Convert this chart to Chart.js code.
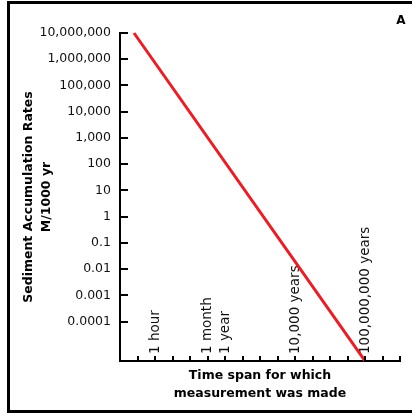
<!DOCTYPE html>
<html>
<head>
<meta charset="utf-8">
<script src="https://cdn.jsdelivr.net/npm/chart.js@4/dist/chart.umd.min.js"></script>
<style>
  html, body { margin: 0; padding: 0; background: #fff; overflow: hidden; }
  canvas { display: block; }
</style>
</head>
<body>
<canvas id="c" width="412" height="413"></canvas>
<script>
// ---- data ----
const timeSpans = [6.3e-6, 1e8];            // years (x)
const accumulationRates = [1e7, 3.2e-6];    // M/1000 yr (y)

const yTickValues = [1e7, 1e6, 1e5, 1e4, 1e3, 1e2, 1e1, 1, 1e-1, 1e-2, 1e-3, 1e-4];
const yTickLabels = ['10,000,000', '1,000,000', '100,000', '10,000', '1,000', '100', '10', '1', '0.1', '0.01', '0.001', '0.0001'];

const xTickValues = [1e-5, 1e-4, 1e-3, 1e-2, 1e-1, 1, 1e1, 1e2, 1e3, 1e4, 1e5, 1e6, 1e7, 1e8, 1e9, 1e10];
const xLabelValues = [1e-4, 1e-1, 1, 1e4, 1e8];
const xLabels = ['1 hour', '1 month', '1 year', '10,000 years', '100,000,000 years'];

const yTitle = ['Sediment Accumulation Rates', 'M/1000 yr'];
const xTitle = ['Time span for which', 'measurement was made'];
const panelLetter = 'A';

const points = timeSpans.map((t, i) => ({ x: t, y: accumulationRates[i] }));

const decorPlugin = {
  id: 'decor',
  beforeDraw(chart) {
    const ctx = chart.ctx;
    ctx.save();
    ctx.fillStyle = '#fff';
    ctx.fillRect(0, 0, chart.width, chart.height);
    ctx.fillStyle = '#000';
    ctx.fillRect(7, 1, 405, 3);
    ctx.fillRect(7, 1, 3, 412);
    ctx.fillRect(7, 410, 405, 3);
    ctx.font = 'bold 12px "DejaVu Sans"';
    ctx.textAlign = 'center';
    ctx.textBaseline = 'alphabetic';
    ctx.fillText(panelLetter, 401, 24);
    ctx.restore();
  },
  beforeDatasetsDraw(chart) {
    const ctx = chart.ctx;
    const xs = chart.scales.x;
    const area = chart.chartArea;
    ctx.save();
    ctx.fillStyle = '#111';
    ctx.font = '13.5px "DejaVu Sans"';
    ctx.textAlign = 'left';
    ctx.textBaseline = 'middle';
    xLabelValues.forEach((v, i) => {
      const px = xs.getPixelForValue(v);
      ctx.save();
      ctx.translate(px, area.bottom - 7);
      ctx.rotate(-Math.PI / 2);
      ctx.fillText(xLabels[i], 0, 0);
      ctx.restore();
    });
    ctx.restore();
  },
  afterDraw(chart) {
    const ctx = chart.ctx;
    const xs = chart.scales.x, ys = chart.scales.y;
    const area = chart.chartArea;
    ctx.save();
    ctx.strokeStyle = '#000';
    ctx.lineWidth = 2;
    ctx.beginPath();
    yTickValues.forEach(v => {
      const py = Math.round(ys.getPixelForValue(v));
      ctx.moveTo(area.left, py);
      ctx.lineTo(area.left + 8, py);
    });
    xTickValues.forEach(v => {
      const px = Math.round(xs.getPixelForValue(v));
      ctx.moveTo(px, area.bottom);
      ctx.lineTo(px, area.bottom - 5);
    });
    ctx.stroke();
    ctx.restore();
  }
};

new Chart(document.getElementById('c'), {
  type: 'line',
  data: {
    datasets: [{
      data: points,
      borderColor: '#ec1c24',
      borderWidth: 3,
      pointRadius: 0,
      fill: false,
      tension: 0,
      clip: false
    }]
  },
  options: {
    responsive: false,
    animation: false,
    devicePixelRatio: 1,
    layout: { padding: { top: 33, right: 12, bottom: 0, left: 0 } },
    plugins: { legend: { display: false }, tooltip: { enabled: false } },
    scales: {
      x: {
        type: 'logarithmic',
        min: 1e-6,
        max: 1e10,
        grid: { display: false, drawTicks: false },
        border: { display: true, color: '#000', width: 2 },
        ticks: { display: false },
        title: {
          display: true,
          text: xTitle,
          color: '#000',
          font: { family: 'DejaVu Sans', size: 12.5, weight: 'bold', lineHeight: 1.4 },
          padding: { top: 0, bottom: 10.75 }
        },
        afterFit(scale) { scale.height = 52; }
      },
      y: {
        type: 'logarithmic',
        min: 3.16e-6,
        max: 1e7,
        grid: { display: false, drawTicks: false },
        border: { display: true, color: '#000', width: 2 },
        afterBuildTicks(scale) {
          scale.ticks = yTickValues.map(v => ({ value: v }));
        },
        ticks: {
          autoSkip: false,
          padding: 9,
          color: '#111',
          font: { family: 'DejaVu Sans', size: 12.5 },
          callback: (value, index) => yTickLabels[index]
        },
        title: {
          display: true,
          text: yTitle,
          color: '#000',
          font: { family: 'DejaVu Sans', size: 12.5, weight: 'bold', lineHeight: 1.4 },
          padding: { top: 20, bottom: 0 }
        },
        afterFit(scale) { scale.width = 120; }
      }
    }
  },
  plugins: [decorPlugin]
});
</script>
</body>
</html>
